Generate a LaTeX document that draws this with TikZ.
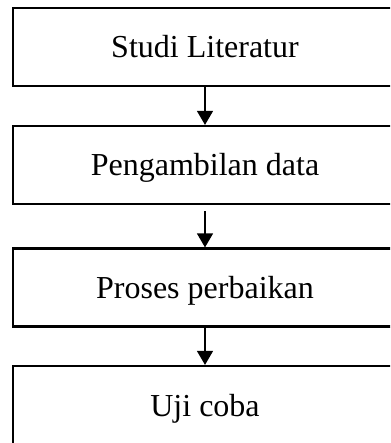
\documentclass[tikz,border=0pt]{standalone}
\usepackage{fontspec}
\setmainfont{Liberation Serif}
\usetikzlibrary{arrows.meta}
\begin{document}
\begin{tikzpicture}[x=1pt,y=-1pt,
  stepbox/.style={draw=black,line width=2.2pt,rectangle,minimum width=384pt,minimum height=78pt,
    inner sep=0pt,text height=22pt,text depth=0pt,font=\fontsize{32}{38}\selectfont},
  flow/.style={line width=1.3pt,-{Triangle[width=16pt,length=14pt]}}]
\useasboundingbox (0,0) rectangle (390,443);
\clip (0,0) rectangle (390,443);
\fill[white] (0,0) rectangle (390,443);
\node[stepbox] (b1) at (205,47) {Studi Literatur};
\node[stepbox] (b2) at (205,165) {Pengambilan data};
\node[stepbox] (b3) at (205,287.5) {Proses perbaikan};
\node[stepbox] (b4) at (205,405) {Uji coba};
\draw[flow] (b1.south) -- (b2.north);
\draw[flow] (b2.south) ++(0,6) coordinate (s2) (s2) -- (b3.north);
\draw[flow] (b3.south) -- (b4.north);
\end{tikzpicture}
\end{document}
